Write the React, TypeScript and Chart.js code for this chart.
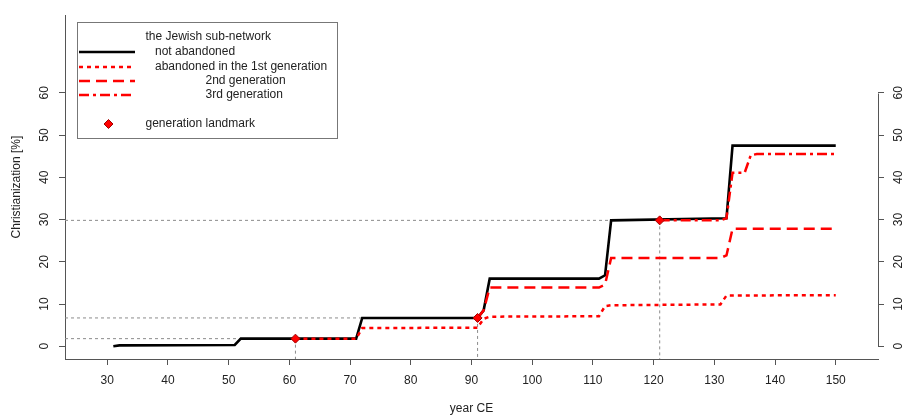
import React, { useEffect, useRef } from "react";
import { Chart, registerables } from "chart.js";

Chart.register(...registerables);

// ---------- data ----------
const xTickValues = [30, 40, 50, 60, 70, 80, 90, 100, 110, 120, 130, 140, 150];
const yTickValues = [0, 10, 20, 30, 40, 50, 60];

const notAbandonedYears = [31, 32, 51, 52, 71, 72, 91, 92, 93, 111, 112, 113, 132, 133, 150];
const notAbandonedValues = [0.0, 0.2, 0.3, 1.8, 1.8, 6.7, 6.7, 8.5, 16.0, 16.0, 16.8, 29.8, 30.3, 47.5, 47.5];

const firstGenYears = [61, 71, 72, 91, 92, 93, 111, 112, 113, 131, 132, 150];
const firstGenValues = [1.8, 1.8, 4.3, 4.4, 6.5, 7.0, 7.1, 9.5, 9.7, 9.9, 12.0, 12.1];

const secondGenYears = [91, 92, 93, 111, 112, 113, 131, 132, 133, 150];
const secondGenValues = [6.7, 8.5, 13.9, 13.9, 14.6, 20.9, 20.9, 21.5, 27.8, 27.8];

const thirdGenYears = [121, 131, 132, 133, 135, 136, 137, 150];
const thirdGenValues = [29.8, 29.8, 30.3, 41.1, 41.1, 45.2, 45.5, 45.5];

const landmarkYears = [61, 91, 121];
const landmarkValues = [1.8, 6.7, 29.8];

const legendTitle = "the Jewish sub-network";
const legendLabels = [
  "not abandoned",
  "abandoned in the 1st generation",
  "2nd generation",
  "3rd generation",
];
const legendLandmark = "generation landmark";

const xTitle = "year CE";
const yTitle = "Christianization [%]";

// ---------- styles ----------
const X_MIN = 23.04;
const X_MAX = 156.96;
const Y_MIN = -3.02;
const Y_MAX = 78.37;
const FONT = '"Liberation Sans", Arial, Helvetica, sans-serif';
const TEXT = "#222222";
const AXIS = "#555555";
const RED = "#ff0000";
const REF = "#8c8c8c";
const DOTTED = [4, 4];
const DASHED = [11, 6];
const DASHDOT = [10, 4, 3, 4];

const pts = (xs: number[], ys: number[]) => xs.map((x, i) => ({ x, y: ys[i] }));

const furniture = {
  id: "furniture",
  afterDraw(chart: any) {
    const ctx = chart.ctx as CanvasRenderingContext2D;
    const y2 = chart.scales.y2;
    // right axis line only between first and last tick
    ctx.save();
    ctx.strokeStyle = AXIS;
    ctx.lineWidth = 1;
    const ax = Math.round(y2.left) + 0.5;
    ctx.beginPath();
    ctx.moveTo(ax, Math.round(y2.getPixelForValue(yTickValues[0])) + 0.5);
    ctx.lineTo(ax, Math.round(y2.getPixelForValue(yTickValues[yTickValues.length - 1])) + 0.5);
    ctx.stroke();

    // legend box
    ctx.fillStyle = "#ffffff";
    ctx.fillRect(77.5, 22.5, 260, 116);
    ctx.strokeStyle = "#777777";
    ctx.strokeRect(77.5, 22.5, 260, 116);

    ctx.font = `12px ${FONT}`;
    ctx.fillStyle = TEXT;
    ctx.textBaseline = "middle";
    ctx.textAlign = "left";
    ctx.fillText(legendTitle, 145.5, 37);

    const rows = [
      { y: 52, tx: 155, color: "#000000", dash: [] as number[], w: 2.5 },
      { y: 67, tx: 155, color: RED, dash: DOTTED, w: 2.5 },
      { y: 81, tx: 205.5, color: RED, dash: DASHED, w: 2.5 },
      { y: 95, tx: 205.5, color: RED, dash: DASHDOT, w: 2.5 },
    ];
    rows.forEach((r, i) => {
      ctx.save();
      ctx.strokeStyle = r.color;
      ctx.lineWidth = r.w;
      ctx.setLineDash(r.dash);
      ctx.beginPath();
      ctx.moveTo(79, r.y);
      ctx.lineTo(135, r.y);
      ctx.stroke();
      ctx.restore();
      ctx.fillText(legendLabels[i], r.tx, r.y);
    });

    // landmark symbol
    const cx = 108.5, cy = 124, s = 4.5;
    ctx.beginPath();
    ctx.moveTo(cx, cy - s);
    ctx.lineTo(cx + s, cy);
    ctx.lineTo(cx, cy + s);
    ctx.lineTo(cx - s, cy);
    ctx.closePath();
    ctx.fillStyle = RED;
    ctx.fill();
    ctx.strokeStyle = "#a00000";
    ctx.lineWidth = 1;
    ctx.stroke();
    ctx.fillStyle = TEXT;
    ctx.fillText(legendLandmark, 145.5, 124);
    ctx.restore();
  },
};

export default function App() {
  const ref = useRef<HTMLCanvasElement>(null);

  useEffect(() => {
    if (!ref.current) return;
    Chart.defaults.font.family = FONT;
    Chart.defaults.font.size = 12;
    Chart.defaults.color = TEXT;

    const refLines: any[] = [];
    landmarkYears.forEach((yr, i) => {
      refLines.push({
        data: [{ x: X_MIN, y: landmarkValues[i] }, { x: yr, y: landmarkValues[i] }],
        borderColor: REF, borderWidth: 1, borderDash: [3, 3], pointRadius: 0, order: 10,
      });
      refLines.push({
        data: [{ x: yr, y: landmarkValues[i] }, { x: yr, y: Y_MIN }],
        borderColor: REF, borderWidth: 1, borderDash: [3, 3], pointRadius: 0, order: 10,
      });
    });

    const yAxisCommon = (pos: "left" | "right", width: number) => ({
      type: "linear" as const,
      position: pos,
      min: Y_MIN,
      max: Y_MAX,
      afterBuildTicks: (s: any) => { s.ticks = yTickValues.map((v) => ({ value: v })); },
      afterFit: (s: any) => { s.width = width; },
      grid: { drawOnChartArea: false, drawTicks: true, tickLength: 6, color: AXIS, lineWidth: 1 },
      border: { display: pos === "left", color: AXIS, width: 1 },
      ticks: {
        autoSkip: false, minRotation: 90, maxRotation: 90, crossAlign: "center" as const,
        padding: 8, color: TEXT, font: { size: 12 }, callback: (v: any) => String(v),
      },
    });

    const chart = new Chart(ref.current, {
      type: "line",
      data: {
        datasets: [
          ...refLines,
          {
            data: pts(notAbandonedYears, notAbandonedValues),
            borderColor: "#000000", borderWidth: 2.6, pointRadius: 0, order: 5,
          },
          {
            data: pts(firstGenYears, firstGenValues),
            borderColor: RED, borderWidth: 2.5, borderDash: DOTTED, pointRadius: 0, order: 4,
          },
          {
            data: pts(secondGenYears, secondGenValues),
            borderColor: RED, borderWidth: 2.5, borderDash: DASHED, pointRadius: 0, order: 3,
          },
          {
            data: pts(thirdGenYears, thirdGenValues),
            borderColor: RED, borderWidth: 2.5, borderDash: DASHDOT, pointRadius: 0, order: 2,
          },
          {
            data: pts(landmarkYears, landmarkValues),
            showLine: false, pointStyle: "rectRot", pointRadius: 4.5,
            pointBackgroundColor: RED, pointBorderColor: "#a00000", pointBorderWidth: 1, order: 0,
          },
        ],
      },
      options: {
        responsive: false,
        animation: false,
        devicePixelRatio: 1,
        layout: { padding: { top: 9, left: 0, right: 0, bottom: 0 } },
        plugins: { legend: { display: false }, tooltip: { enabled: false } },
        elements: { line: { tension: 0 } },
        scales: {
          x: {
            type: "linear",
            position: "bottom",
            min: X_MIN,
            max: X_MAX,
            afterBuildTicks: (s: any) => { s.ticks = xTickValues.map((v) => ({ value: v })); },
            afterFit: (s: any) => { s.height = 56; },
            grid: { drawOnChartArea: false, drawTicks: true, tickLength: 6, color: AXIS, lineWidth: 1 },
            border: { display: true, color: AXIS, width: 1 },
            ticks: {
              autoSkip: false, minRotation: 0, maxRotation: 0, padding: 8,
              color: TEXT, font: { size: 12 }, callback: (v: any) => String(v),
            },
            title: { display: true, text: xTitle, color: TEXT, font: { size: 12, lineHeight: 1 }, padding: 0 },
          },
          y: {
            ...yAxisCommon("left", 65),
            title: {
              display: true, text: yTitle, color: TEXT,
              font: { size: 12, lineHeight: 1.2 }, padding: { top: 9, bottom: 0 },
            },
          },
          y2: yAxisCommon("right", 27),
        },
      } as any,
      plugins: [furniture],
    });
    return () => chart.destroy();
  }, []);

  return (
    <div style={{ position: "fixed", left: 0, top: 0, width: 905, height: 415, background: "#ffffff" }}>
      <canvas ref={ref} width={905} height={415} style={{ display: "block", width: 905, height: 415 }} />
    </div>
  );
}
